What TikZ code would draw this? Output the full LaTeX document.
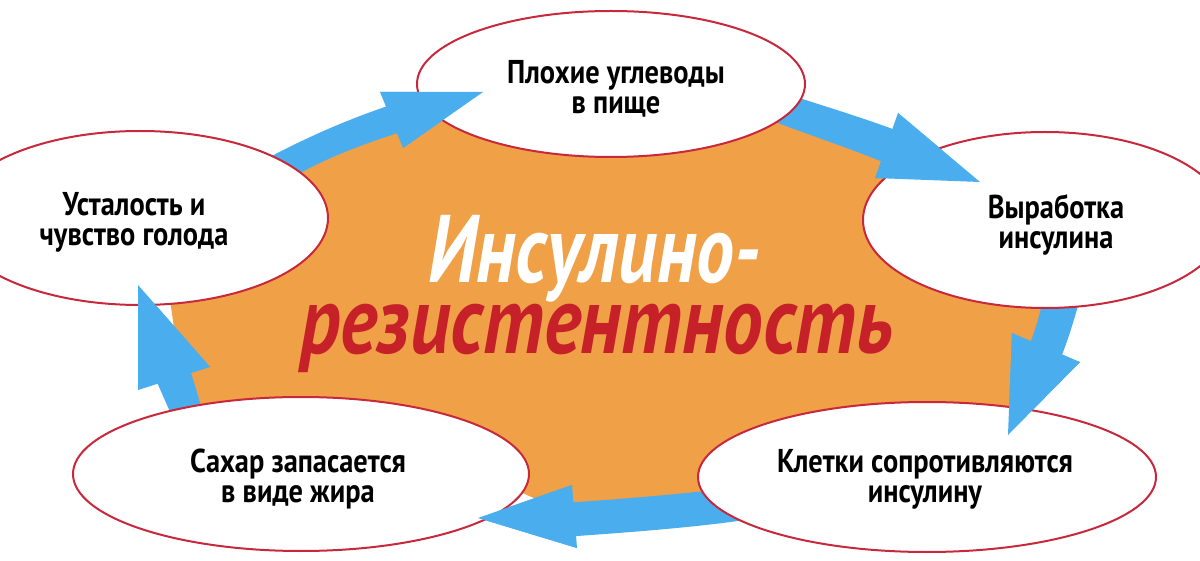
\documentclass[tikz,border=0pt]{standalone}
\usepackage{fontspec}
\usetikzlibrary{shapes.geometric}
\newfontfamily\lblfont{PT Sans}[FakeStretch=0.86]
\newfontfamily\ttlfontA{PT Sans}[FakeStretch=0.79]
\newfontfamily\ttlfontB{PT Sans}[FakeStretch=0.825]
\definecolor{bloborange}{HTML}{F0A047}
\definecolor{arrowblue}{HTML}{4AAEEE}
\definecolor{rimred}{HTML}{C8283C}
\definecolor{titlered}{HTML}{C62029}
\tikzset{
  bubble/.style={ellipse, draw=rimred, line width=2pt, fill=white, inner sep=0pt},
  lbl/.style={align=center, font=\lblfont\bfseries\fontsize{33}{30}\selectfont, text=black},
  ttl/.style={anchor=base, inner sep=0pt},
  blobfill/.style={fill=bloborange},
  arrowfill/.style={fill=arrowblue}
}
\begin{document}
\begin{tikzpicture}[x=1pt,y=-1pt]
\useasboundingbox (0,0) rectangle (1200,561);
\fill[white] (0,0) rectangle (1200,561);
% orange central blob
\path[blobfill] (295,175) -- (400,120) -- (450,118) -- (770,115) -- (885,160) -- (890,200)
  -- (1045,300) -- (1033,350) -- (1015,420) -- (720,490) -- (715,497) -- (560,510) -- (505,485)
  -- (195,410) -- (185,405) -- (170,300) -- cycle;
% arrow bodies
\path[arrowfill] (255,165) .. controls (300,140) and (350,118) .. (397,103) -- (380,92) -- (483,92)
  -- (403,148) -- (407,130) .. controls (360,145) and (320,160) .. (285,182) -- cycle;
\path[arrowfill] (790,95) .. controls (830,108) and (870,120) .. (903,133) -- (898,113) -- (980,182)
  -- (875,178) -- (890,165) .. controls (850,148) and (800,132) .. (765,118) -- cycle;
\path[arrowfill] (1045,290) .. controls (1040,315) and (1034,335) .. (1027,350) -- (1012,333) -- (1008,435)
  -- (1080,362) -- (1060,360) .. controls (1068,340) and (1076,315) .. (1082,290) -- cycle;
\path[arrowfill] (715,490) .. controls (670,495) and (610,500) .. (562,503) -- (572,485) -- (478,518)
  -- (577,548) -- (563,537) .. controls (620,533) and (690,528) .. (745,520) -- cycle;
\path[arrowfill] (170,412) .. controls (165,400) and (158,385) .. (153,373) -- (138,390) -- (138,285)
  -- (210,367) -- (187,362) .. controls (192,375) and (197,392) .. (202,410) -- cycle;
% ellipses
\node[bubble, minimum width=388pt, minimum height=146pt] (top) at (611,84) {};
\node[bubble, minimum width=376pt, minimum height=174pt] (left) at (140,218) {};
\node[bubble, minimum width=364pt, minimum height=176pt] (right) at (1045,220) {};
\node[bubble, minimum width=456pt, minimum height=154pt] (botleft) at (301,474) {};
\node[bubble, minimum width=458pt, minimum height=150pt] (botright) at (927,477) {};
% arrow heads on top
\path[arrowfill] (380,92) -- (483,92) -- (403,148) -- cycle;
\path[arrowfill] (898,113) -- (980,182) -- (875,178) -- cycle;
\path[arrowfill] (1012,333) -- (1008,435) -- (1080,362) -- cycle;
\path[arrowfill] (572,485) -- (478,518) -- (577,548) -- cycle;
\path[arrowfill] (138,390) -- (138,285) -- (210,367) -- cycle;
% labels
\node[lbl] (ttop) at (616,89) {Плохие углеводы\\в пище};
\node[lbl] (tleft) at (134,222) {Усталость и\\чувство голода};
\node[lbl] (tright) at (1056,225) {Выработка\\инсулина};
\node[lbl] (tbotleft) at (298,479) {Сахар запасается\\в виде жира};
\node[lbl] (tbotright) at (925,479) {Клетки сопротивляются\\инсулину};
% title
\node[ttl, text=white, text depth=0pt, font=\ttlfontA\bfseries\itshape\fontsize{96}{96}\selectfont] (title1) at (594,283) {Инсулино-};
\node[ttl, text=titlered, text height=50pt, font=\ttlfontB\bfseries\itshape\fontsize{96}{96}\selectfont] (title2) at (597,354) {резистентность};
\end{tikzpicture}
\end{document}
